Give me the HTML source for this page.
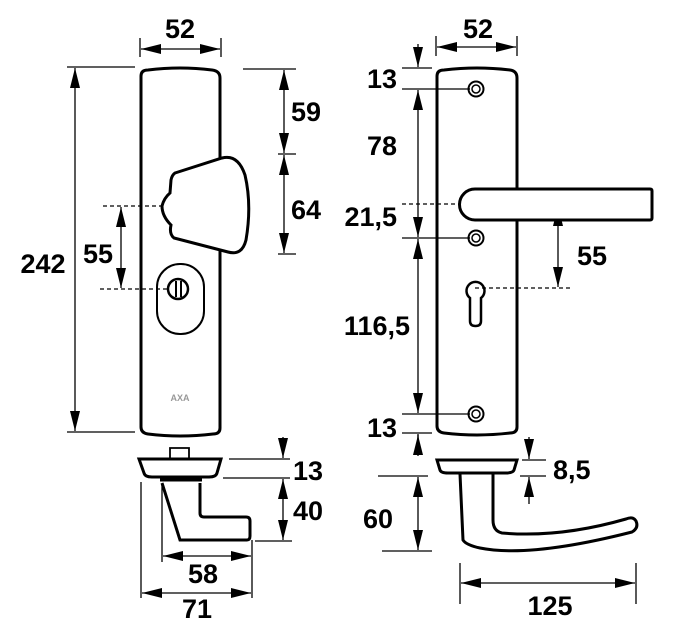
<!DOCTYPE html>
<html><head><meta charset="utf-8"><style>
html,body{margin:0;padding:0;background:#fff;}
svg{display:block}
text{font-family:"Liberation Sans",Arial,sans-serif;font-weight:bold;font-size:27px;fill:#000}
</style></head><body>
<svg width="676" height="641" viewBox="0 0 676 641" xmlns="http://www.w3.org/2000/svg">
<defs>
<marker id="b" viewBox="0 0 20 10" refX="20" refY="5" markerWidth="20" markerHeight="10" markerUnits="userSpaceOnUse" orient="auto-start-reverse"><path d="M0,0 L20,5 L0,10 Z" fill="#000"/></marker>
</defs>
<g stroke="#000" fill="none" stroke-width="1.3">
<!-- LEFT -->
<line x1="140" y1="38" x2="140" y2="57"/><line x1="221" y1="38" x2="221" y2="57"/>
<line x1="141" y1="49" x2="220" y2="49" marker-start="url(#b)" marker-end="url(#b)"/>
<line x1="67" y1="67" x2="135" y2="67"/><line x1="67" y1="432" x2="135" y2="432"/>
<line x1="75" y1="68" x2="75" y2="431" marker-start="url(#b)" marker-end="url(#b)"/>
<line x1="243" y1="69" x2="296" y2="69"/><line x1="278" y1="154" x2="296" y2="154"/><line x1="278" y1="254" x2="296" y2="254"/>
<line x1="284" y1="70" x2="284" y2="153" marker-start="url(#b)" marker-end="url(#b)"/>
<line x1="284" y1="155" x2="284" y2="253" marker-start="url(#b)" marker-end="url(#b)"/>
<line x1="103" y1="206" x2="187" y2="206" stroke-dasharray="4,3"/>
<line x1="100" y1="289" x2="167" y2="289" stroke-dasharray="4,3"/>
<line x1="121" y1="207" x2="121" y2="288" marker-start="url(#b)" marker-end="url(#b)"/>
<path d="M141,76 Q141,70 148,70 Q180,66 212,70 Q220,71 220,78 L220,428 Q220,434 213,434 Q180,438 148,434 Q141,433 141,427 Z" stroke-width="3"/>
<path d="M175,173 L222,158 Q238,154 245,175 Q252,205 246,240 Q242,256 228,252 L174,238 Q169,234 171,225 Q162,216 162,206 Q164,198 170,193 L171,180 Q172,175 175,173 Z" fill="#fff" stroke-width="3"/>
<rect x="157" y="264" width="47" height="70" rx="23" stroke-width="2"/>
<circle cx="178" cy="289" r="10" stroke-width="2.5"/>
<line x1="176" y1="281" x2="176" y2="297" stroke-width="2"/><line x1="181" y1="281" x2="181" y2="297" stroke-width="2"/>
<!-- bottom left -->
<path d="M170,459 L170,448 L189,448 L189,459" stroke-width="1.8"/>
<path d="M139,459 L221,459 L217,473 Q216,477 209,477 L152,477 Q145,477 144,473 Z" stroke-width="3" fill="#fff"/>
<path d="M162,483 L180,540 L247,540 Q250,540 250,536 L250,521 Q250,517 246,517 L204,517 Q200,517 200,513 L200,483" stroke-width="3"/>
<line x1="160" y1="480" x2="202" y2="480" stroke-width="3"/>
<line x1="229" y1="459" x2="290" y2="459"/><line x1="223" y1="478" x2="290" y2="478"/><line x1="255" y1="541" x2="292" y2="541"/>
<line x1="283" y1="437" x2="283" y2="458" marker-end="url(#b)"/>
<line x1="283" y1="479" x2="283" y2="540" marker-start="url(#b)" marker-end="url(#b)"/>
<line x1="141" y1="482" x2="141" y2="598"/><line x1="252" y1="540" x2="252" y2="598"/><line x1="162" y1="485" x2="162" y2="562"/>
<line x1="163" y1="556" x2="251" y2="556" marker-start="url(#b)" marker-end="url(#b)"/>
<line x1="142" y1="593" x2="251" y2="593" marker-start="url(#b)" marker-end="url(#b)"/>
<!-- RIGHT -->
<line x1="436" y1="36" x2="436" y2="56"/><line x1="517" y1="36" x2="517" y2="56"/>
<line x1="437" y1="47" x2="516" y2="47" marker-start="url(#b)" marker-end="url(#b)"/>
<line x1="402" y1="68" x2="432" y2="68"/><line x1="402" y1="89" x2="470" y2="89"/>
<line x1="402" y1="238" x2="470" y2="238"/><line x1="402" y1="414" x2="470" y2="414"/><line x1="402" y1="433" x2="432" y2="433"/>
<line x1="418" y1="44" x2="418" y2="67" marker-end="url(#b)"/>
<line x1="418" y1="90" x2="418" y2="237" marker-start="url(#b)" marker-end="url(#b)"/>
<line x1="418" y1="239" x2="418" y2="413" marker-start="url(#b)" marker-end="url(#b)"/>
<line x1="418" y1="434" x2="418" y2="440"/>
<line x1="402" y1="204" x2="570" y2="204" stroke-dasharray="4,3"/>
<line x1="475" y1="288" x2="572" y2="288" stroke-dasharray="4,3"/>
<line x1="558" y1="206" x2="558" y2="287" marker-start="url(#b)" marker-end="url(#b)"/>
<path d="M437,76 Q437,70 444,70 Q477,66 510,70 Q517,71 517,78 L517,427 Q517,433 510,433 Q477,437 444,433 Q437,432 437,426 Z" stroke-width="3"/>
<path d="M475,189 L650,189 Q652,189 652,191 L652,218 Q652,220 650,220 L475,220 A15.5,15.5 0 0 1 475,189 Z" fill="#fff" stroke-width="3"/>
<circle cx="476" cy="89" r="7.5" stroke-width="2"/><circle cx="476" cy="89" r="4" stroke-width="1.5"/>
<circle cx="476" cy="238" r="7.5" stroke-width="2"/><circle cx="476" cy="238" r="4" stroke-width="1.5"/>
<circle cx="476" cy="414" r="7.5" stroke-width="2"/><circle cx="476" cy="414" r="4" stroke-width="1.5"/>
<path d="M470,298 A9,9 0 1 1 481,298 L481,321 Q481,326 475.5,326 Q470,326 470,321 Z" stroke-width="2.5"/>
<!-- bottom right -->
<path d="M437,460 L517,460 L514,470 Q513,473 506,473 L448,473 Q441,473 440,470 Z" stroke-width="3" fill="#fff"/>
<line x1="418" y1="456" x2="418" y2="435" marker-end="url(#b)"/>
<path d="M460,474 L463,540 Q466,545 480,548 Q530,558 632,532 Q639,528 636,521 Q633,516 626,519 Q560,538 502,533 Q493,531 493,520 L493,474" stroke-width="3"/>
<line x1="522" y1="460" x2="546" y2="460"/><line x1="520" y1="476" x2="546" y2="476"/>
<line x1="529" y1="437" x2="529" y2="459" marker-end="url(#b)"/>
<line x1="529" y1="504" x2="529" y2="477" marker-end="url(#b)"/>
<line x1="378" y1="476" x2="428" y2="476"/><line x1="382" y1="551" x2="432" y2="551"/>
<line x1="418" y1="477" x2="418" y2="550" marker-start="url(#b)" marker-end="url(#b)"/>
<line x1="460" y1="563" x2="460" y2="604"/><line x1="636" y1="563" x2="636" y2="604"/>
<line x1="461" y1="583" x2="635" y2="583" marker-start="url(#b)" marker-end="url(#b)"/>
</g>
<text x="180" y="38" text-anchor="middle">52</text>
<text x="43" y="273" text-anchor="middle">242</text>
<text x="306" y="121" text-anchor="middle">59</text>
<text x="306" y="219" text-anchor="middle">64</text>
<text x="98" y="263" text-anchor="middle">55</text>
<text x="180" y="401" text-anchor="middle" style="font-size:9px;fill:#999">AXA</text>
<text x="308" y="480" text-anchor="middle">13</text>
<text x="308" y="520" text-anchor="middle">40</text>
<text x="203" y="583" text-anchor="middle">58</text>
<text x="197" y="618" text-anchor="middle">71</text>
<text x="478" y="38" text-anchor="middle">52</text>
<text x="397" y="88" text-anchor="end">13</text>
<text x="397" y="155" text-anchor="end">78</text>
<text x="397" y="226" text-anchor="end">21,5</text>
<text x="410" y="335" text-anchor="end">116,5</text>
<text x="397" y="437" text-anchor="end">13</text>
<text x="592" y="265" text-anchor="middle">55</text>
<text x="553" y="479">8,5</text>
<text x="378" y="528" text-anchor="middle">60</text>
<text x="550" y="615" text-anchor="middle">125</text>
</svg>
</body></html>
